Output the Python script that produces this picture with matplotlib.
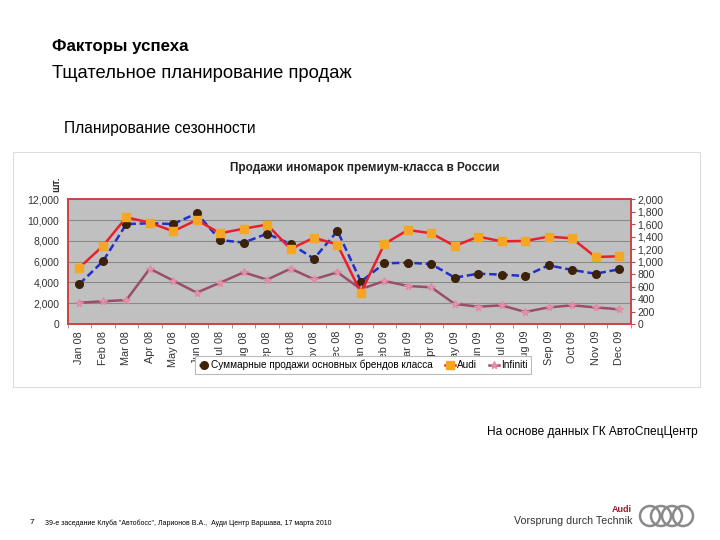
import matplotlib.pyplot as plt
import matplotlib.patches as mpatches
import numpy as np

plt.rcParams['font.family'] = ['Liberation Sans', 'DejaVu Sans']

# --- data ---
months = ["Jan 08", "Feb 08", "Mar 08", "Apr 08", "May 08", "Jun 08", "Jul 08", "Aug 08",
          "Sep 08", "Oct 08", "Nov 08", "Dec 08", "Jan 09", "Feb 09", "Mar 09", "Apr 09",
          "May 09", "Jun 09", "Jul 09", "Aug 09", "Sep 09", "Oct 09", "Nov 09", "Dec 09"]
# left axis, шт.
total_brands = [3850, 6030, 9620, 9690, 9620, 10650, 8080, 7830, 8690, 7700, 6290, 8950,
                4080, 5840, 5900, 5770, 4460, 4840, 4750, 4620, 5650, 5200, 4840, 5260]
# right axis, шт.
audi = [904, 1251, 1711, 1626, 1487, 1668, 1455, 1529, 1594, 1203, 1385, 1273,
        503, 1283, 1508, 1455, 1251, 1401, 1326, 1332, 1401, 1374, 1075, 1086]
infiniti = [342, 364, 385, 888, 695, 503, 663, 829, 711, 888, 717, 829,
            560, 690, 610, 588, 321, 278, 299, 193, 267, 299, 267, 235]

fig = plt.figure(figsize=(7.2, 5.4), dpi=100)
fig.patch.set_facecolor("white")

# slide texts
fig.text(52 / 720, 1 - 47 / 540, "Факторы успеха", fontsize=12.2, fontweight="bold", va="center")
fig.text(52 / 720, 1 - 73 / 540, "Тщательное планирование продаж", fontsize=13.2, va="center")
fig.text(64 / 720, 1 - 129 / 540, "Планирование сезонности", fontsize=11.2, va="center")
fig.text(698 / 720, 1 - 432 / 540, "На основе данных ГК АвтоСпецЦентр", fontsize=8.6, ha="right", va="center")

# chart frame
fig.patches.append(mpatches.Rectangle((13 / 720, 1 - 387 / 540), 687 / 720, 235 / 540,
                                      transform=fig.transFigure, facecolor="none",
                                      edgecolor="#dddddd", linewidth=0.8, zorder=-1))
fig.text(365 / 720, 1 - 168 / 540, "Продажи иномарок премиум-класса в России",
         fontsize=8.5, fontweight="bold", ha="center", va="center", color="#222222")
fig.text(56 / 720, 1 - 184 / 540, "шт.", fontsize=7.5, fontweight="bold", rotation=90,
         ha="center", va="center", color="#333333")

ax = fig.add_axes([67.7 / 720, 1 - 324 / 540, 563 / 720, 124.7 / 540])
ax.set_facecolor("#c0c0c0")
x = np.arange(len(months))

ax.set_ylim(0, 12000)
ax.set_yticks(np.arange(0, 12001, 2000))
ax.set_yticklabels([f"{v:,}" for v in range(0, 12001, 2000)])
ax.grid(axis="y", color="#8a8a8a", linewidth=0.8)
ax.set_axisbelow(True)
ax.set_xlim(-0.5, len(months) - 0.5)
ax.set_xticks(x)
ax.set_xticklabels(months, rotation=90, fontsize=7.8)
ax.set_xticks(np.arange(-0.5, len(months), 1), minor=True)
ax.tick_params(axis="x", which="major", length=0, pad=5, colors="#333333")
ax.tick_params(axis="x", which="minor", length=3, color="#888888")
ax.tick_params(axis="y", length=0, labelsize=7.5, colors="#333333", pad=6)
for s in ax.spines.values():
    s.set_color("#cc4444")
    s.set_linewidth(1.2)

l1, = ax.plot(x, total_brands, color="#1f2fd0", linestyle=(0, (3, 1.5)), linewidth=1.8,
              marker="o", markersize=5.5, markerfacecolor="#3b2208", markeredgecolor="#3b2208",
              zorder=3)

ax2 = ax.twinx()
ax2.set_ylim(0, 2000)
ax2.set_yticks(np.arange(0, 2001, 200))
ax2.set_yticklabels([f"{v:,}" for v in range(0, 2001, 200)])
ax2.tick_params(axis="y", length=3, labelsize=7.5, colors="#333333", pad=2)
ax2.tick_params(axis="y", color="#cc4444")
for s in ax2.spines.values():
    s.set_color("#cc4444")
    s.set_linewidth(1.2)

l3, = ax2.plot(x, infiniti, color="#9a4e6a", linewidth=1.8, marker="*", markersize=5.5,
               markerfacecolor="#f0a0b8", markeredgecolor="#e08aa4", zorder=2)
l2, = ax2.plot(x, audi, color="#e8202a", linewidth=1.8, marker="s", markersize=5.5,
               markerfacecolor="#f5a623", markeredgecolor="#f5a623", zorder=3)

leg = fig.legend([l1, l2, l3], ["Суммарные продажи основных брендов класса", "Audi", "Infiniti"],
                 loc="center", bbox_to_anchor=(363 / 720, 1 - 365 / 540), ncol=3,
                 fontsize=7.2, frameon=True, fancybox=False, handlelength=1.0,
                 handletextpad=0.2, columnspacing=1.2, borderpad=0.35)
leg.get_frame().set_edgecolor("#bbbbbb")
leg.get_frame().set_linewidth(0.8)
leg.get_frame().set_facecolor("white")
leg.get_frame().set_alpha(1)

# footer
fig.text(30 / 720, 1 - 523 / 540, "7", fontsize=6, va="center")
fig.text(45 / 720, 1 - 523 / 540,
         "39-е заседание Клуба \"Автобосс\", Ларионов В.А.,  Ауди Центр Варшава, 17 марта 2010",
         fontsize=5, va="center")
fig.text(632 / 720, 1 - 510 / 540, "Audi", fontsize=6.5, fontweight="bold", color="#9b1c31",
         ha="right", va="center")
fig.text(633 / 720, 1 - 521 / 540, "Vorsprung durch Technik", fontsize=7.7, color="#333333",
         ha="right", va="center")
for i in range(4):
    cx = 650 + i * 11
    fig.patches.append(mpatches.Ellipse((cx / 720, 1 - 516 / 540), 20 / 720, 20 / 540,
                                        transform=fig.transFigure, facecolor="none",
                                        edgecolor="#8a8a8a", linewidth=1.8))

fig.savefig("out.png", dpi=100)
